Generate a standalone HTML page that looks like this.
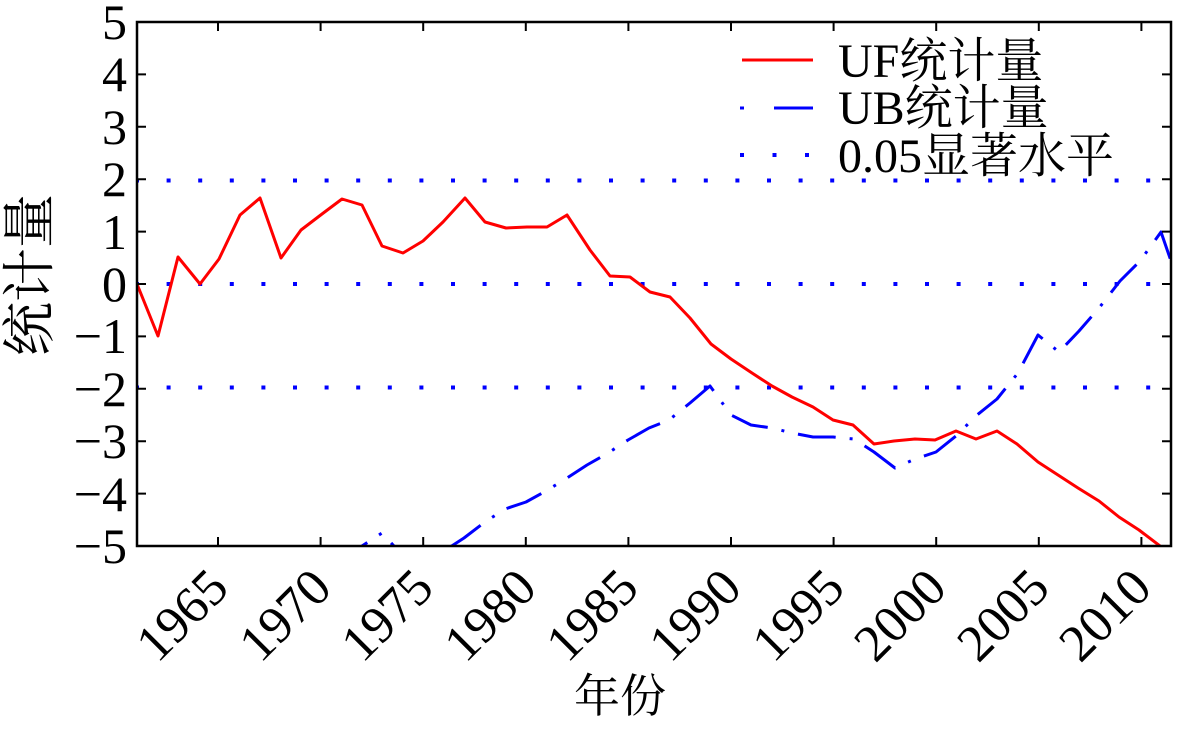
<!DOCTYPE html>
<html><head><meta charset="utf-8"><style>
html,body{margin:0;padding:0;background:#fff;}
body{position:relative;width:1184px;height:717px;overflow:hidden;}
svg{display:block;position:absolute;left:0;top:0;}
.c{font-family:"Liberation Serif","Noto Serif CJK SC",serif;}
.yl{position:absolute;right:1057px;font:50px/50px "Liberation Serif",serif;color:#000;white-space:nowrap;text-align:right;}
.xl{position:absolute;width:200px;text-align:right;font:52px/52px "Liberation Serif",serif;color:#000;white-space:nowrap;transform-origin:100% 43.6px;transform:rotate(-45deg);}
</style></head><body>
<svg width="1184" height="717" viewBox="0 0 1184 717" xmlns="http://www.w3.org/2000/svg">
<defs><clipPath id="c"><rect x="137" y="22" width="1034" height="524"/></clipPath></defs>
<g clip-path="url(#c)">
<g stroke="#0000ff" stroke-width="4" stroke-dasharray="4 27.6" fill="none">
<line x1="135" y1="180.5" x2="1175" y2="180.5"/>
<line x1="135" y1="284" x2="1175" y2="284"/>
<line x1="135" y1="387.5" x2="1175" y2="387.5"/>
</g>
<polyline fill="none" stroke="#ff0000" stroke-width="3" stroke-linejoin="round" points="137,284 158,336 178,257 200,284 219,259 240,215 260,198 281,258 301,230 322,214 342,199 362,205 382,246 403,253 423,241 443,222 465,198 485,222 506,228 527,227 547,227 567,215 590,250 610,276 630,277 650,292 670,297 690,318 711,344 731,359 752,373 772,386 792,397 813,407 833,420 853,425 874,444 894,441 915,439 935,440 956,431 976,439 997,431 1017,444 1038,462 1058,475 1078,488 1099,501 1119,517 1139,530 1160,546"/>
<polyline fill="none" stroke="#0000ff" stroke-width="3" stroke-linejoin="round" stroke-dasharray="38 14 3 14" points="137,620 157,615 178,610 198,605 219,600 239,595 260,590 280,585 300,580 321,570 341,560 362,546 382,533 403,556 423,562 444,551 464,538 485,522 505,509 526,502 546,491 567,478 587,465 608,453 628,440 649,428 669,420 690,403 710,386 731,415 751,425 772,428 792,433 813,437 833,437 854,439 874,452 895,468 915,459 936,452 956,436 977,415 997,399 1018,373 1038,335 1059,352 1079,331 1099,308 1120,281 1140,261 1161,232 1181,290"/>
</g>
<rect x="137" y="22" width="1034" height="524" fill="none" stroke="#000" stroke-width="2.5"/>
<g stroke="#000" stroke-width="2">
<path d="M137 22h9M137 74.4h9M137 126.8h9M137 179.2h9M137 231.6h9M137 284h9M137 336.4h9M137 388.8h9M137 441.2h9M137 493.6h9M137 546h9"/>
<path d="M1171 22h-9M1171 74.4h-9M1171 126.8h-9M1171 179.2h-9M1171 231.6h-9M1171 284h-9M1171 336.4h-9M1171 388.8h-9M1171 441.2h-9M1171 493.6h-9M1171 546h-9"/>
<path d="M218 546v-9M320.6 546v-9M423.2 546v-9M525.8 546v-9M628.4 546v-9M731 546v-9M833.6 546v-9M936.2 546v-9M1038.8 546v-9M1141.4 546v-9"/>
<path d="M218 22v9M320.6 22v9M423.2 22v9M525.8 22v9M628.4 22v9M731 22v9M833.6 22v9M936.2 22v9M1038.8 22v9M1141.4 22v9"/>
</g>
<text class="c" x="620" y="712" font-size="46" text-anchor="middle">年份</text>
<text class="c" transform="translate(48,275) rotate(-90)" font-size="54" text-anchor="middle">统计量</text>
<line x1="742" y1="60" x2="813" y2="60" stroke="#ff0000" stroke-width="3"/>
<line x1="740" y1="108" x2="813" y2="108" stroke="#0000ff" stroke-width="3" stroke-dasharray="4 30 40"/>
<line x1="740" y1="155" x2="813" y2="155" stroke="#0000ff" stroke-width="4" stroke-dasharray="4 28.5"/>
<g class="c" font-size="48">
<text x="838" y="77">UF统计量</text>
<text x="838" y="124">UB统计量</text>
<text x="838" y="172">0.05显著水平</text>
</g>
</svg>
<div class="yl" style="top:-3px">5</div>
<div class="yl" style="top:49px">4</div>
<div class="yl" style="top:102px">3</div>
<div class="yl" style="top:154px">2</div>
<div class="yl" style="top:207px">1</div>
<div class="yl" style="top:259px">0</div>
<div class="yl" style="top:311px">−1</div>
<div class="yl" style="top:364px">−2</div>
<div class="yl" style="top:416px">−3</div>
<div class="yl" style="top:469px">−4</div>
<div class="yl" style="top:521px">−5</div>
<div class="xl" style="left:32px;top:548px">1965</div>
<div class="xl" style="left:135px;top:548px">1970</div>
<div class="xl" style="left:237px;top:548px">1975</div>
<div class="xl" style="left:340px;top:548px">1980</div>
<div class="xl" style="left:442px;top:548px">1985</div>
<div class="xl" style="left:545px;top:548px">1990</div>
<div class="xl" style="left:648px;top:548px">1995</div>
<div class="xl" style="left:750px;top:548px">2000</div>
<div class="xl" style="left:853px;top:548px">2005</div>
<div class="xl" style="left:955px;top:548px">2010</div>
</body></html>
